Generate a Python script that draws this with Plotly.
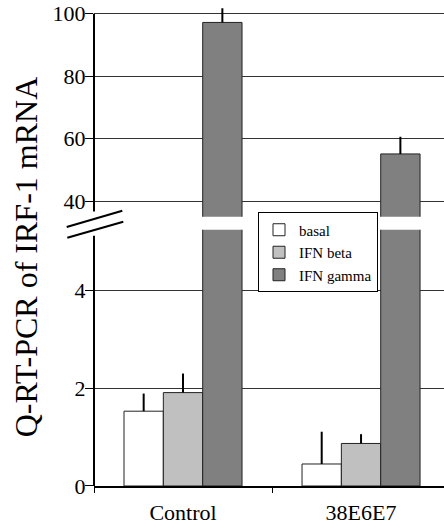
import plotly.graph_objects as go

categories = ["Control", "38E6E7"]
series_names = ["basal", "IFN beta", "IFN gamma"]
basal = [1.53, 0.45]
basal_err = [0.36, 0.66]
ifn_beta = [1.91, 0.87]
ifn_beta_err = [0.39, 0.19]
ifn_gamma = [97.2, 55.1]
ifn_gamma_err = [4.5, 5.5]
lower_ticks = [0, 2, 4]
upper_ticks = [40, 60, 80, 100]

colors = ["#FFFFFF", "#C0C0C0", "#808080"]
values = [basal, ifn_beta, ifn_gamma]
errors = [basal_err, ifn_beta_err, ifn_gamma_err]

FONT = "Liberation Serif"

fig = go.Figure()
for name, col, v, e in zip(series_names, colors, values, errors):
    for ax, show in (("y", True), ("y2", False)):
        fig.add_trace(go.Bar(
            x=categories, y=v, name=name, yaxis=ax, showlegend=show,
            legendgroup=name,
            marker=dict(color=col, line=dict(color="#222222", width=1)),
            error_y=dict(type="data", symmetric=False, array=e,
                         arrayminus=[0] * len(e), color="black",
                         thickness=2, width=0),
        ))

H, W = 532, 444
top_px, bot_px, left_px = 8, 486.5, 94
plot_h = bot_px - top_px

def py(p):
    return (bot_px - p) / plot_h

def px(p):
    return (p - left_px) / (W - left_px)

tick_font = dict(family=FONT, size=22, color="black")

fig.update_layout(
    width=W, height=H,
    margin=dict(l=left_px, r=0, t=top_px, b=H - bot_px, pad=0),
    paper_bgcolor="white", plot_bgcolor="white",
    barmode="group", bargap=0.337, bargroupgap=0,
    font=dict(family=FONT, size=22, color="black"),
    xaxis=dict(range=[-0.5, 1.466], tickson="boundaries", ticks="outside",
               ticklen=5, tickcolor="black", showline=True, linecolor="black",
               linewidth=2, anchor="y", showgrid=False, tickfont=tick_font,
               ticklabelstandoff=6),
    yaxis=dict(domain=[0, py(230)], range=[0, 5.24], tickvals=lower_ticks,
               ticks="outside", ticklen=8, tickcolor="black", showline=False,
               showgrid=True, gridcolor="#333333", gridwidth=1,
               zeroline=False, tickfont=tick_font, ticklabelstandoff=-5),
    yaxis2=dict(domain=[py(217), 1], range=[34.98, 101.82], tickvals=upper_ticks,
                ticks="outside", ticklen=8, tickcolor="black", showline=False,
                showgrid=True, gridcolor="#333333", gridwidth=1,
                zeroline=False, anchor="x", tickfont=tick_font,
                ticklabelstandoff=-5),
    legend=dict(x=px(258), y=py(212.7), xanchor="left", yanchor="top",
                bgcolor="white", bordercolor="black", borderwidth=1,
                font=dict(family=FONT, size=15, color="black"),
                itemwidth=30, traceorder="normal", tracegroupgap=0),
    showlegend=True,
)

shapes = [
    dict(type="line", xref="paper", yref="y2", x0=0, x1=0, y0=36.7, y1=100,
         line=dict(color="black", width=2)),
    dict(type="line", xref="paper", yref="y", x0=0, x1=0, y0=0, y1=5.12,
         line=dict(color="black", width=2)),
    dict(type="line", xref="paper", yref="paper", x0=px(66.7), y0=py(227.3),
         x1=px(122.3), y1=py(211), line=dict(color="black", width=2)),
    dict(type="line", xref="paper", yref="paper", x0=px(67.3), y0=py(238),
         x1=px(123.3), y1=py(222), line=dict(color="black", width=2)),
]
fig.update_layout(shapes=shapes)

fig.add_annotation(text="Q-RT-PCR of IRF-1 mRNA", textangle=-90,
                   xref="paper", yref="paper", x=px(26), y=py(257.5),
                   xanchor="center", yanchor="middle", showarrow=False,
                   font=dict(family=FONT, size=32, color="black"))

fig.write_html("out.html", config={"displayModeBar": False},
               post_script="document.body.style.margin='0';document.body.style.overflow='hidden';")
